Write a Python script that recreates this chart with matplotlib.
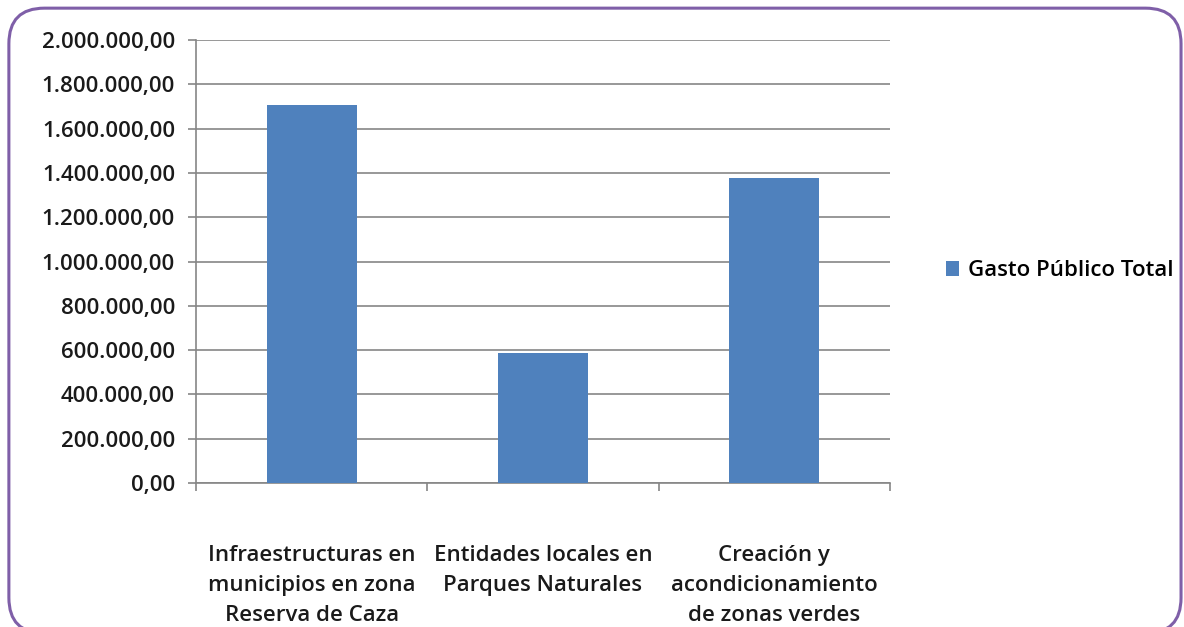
import matplotlib.pyplot as plt
from matplotlib.patches import FancyBboxPatch
from matplotlib.ticker import FuncFormatter

categorias = ['Infraestructuras en\nmunicipios en zona\nReserva de Caza',
              'Entidades locales en\nParques Naturales',
              'Creación y\nacondicionamiento\nde zonas verdes']
gasto = [1708000, 587000, 1376000]
serie = 'Gasto Público Total'
y_ticks = [0, 200000, 400000, 600000, 800000, 1000000, 1200000,
           1400000, 1600000, 1800000, 2000000]

plt.rcParams['font.family'] = ['Open Sans', 'DejaVu Sans']
tam = 16

fig = plt.figure(figsize=(11.84, 6.27), dpi=100)
ax = fig.add_axes([0.1655, 0.2297, 0.5862, 0.7063])

x = range(len(categorias))
ax.bar(x, gasto, width=0.39, color='#4F81BD', label=serie, zorder=3)

ax.set_ylim(0, 2000000)
ax.set_xlim(-0.5, len(categorias) - 0.5)
ax.set_yticks(y_ticks)


def formato(v, pos):
    s = f'{v:,.2f}'
    return s.replace(',', 'X').replace('.', ',').replace('X', '.')


ax.yaxis.set_major_formatter(FuncFormatter(formato))
ax.grid(axis='y', color='#868686', linewidth=1.2, zorder=0)

# ticks entre categorias, estilo Excel
ax.set_xticks([i - 0.5 for i in range(len(categorias) + 1)])
ax.set_xticklabels([])
ax.tick_params(axis='x', direction='out', length=6, color='#868686', width=1.2)
ax.tick_params(axis='y', direction='out', length=6, color='#868686', width=1.2,
               labelsize=tam, pad=9)
for lbl in ax.get_yticklabels():
    lbl.set_fontweight('semibold')
    lbl.set_color('#1a1a1a')

for i, cat in enumerate(categorias):
    ax.text(i, -0.14, cat, transform=ax.get_xaxis_transform(), ha='center',
            va='top', fontsize=tam, fontweight='semibold', color='#1a1a1a',
            linespacing=1.55)

for side in ['top', 'right']:
    ax.spines[side].set_visible(False)
for side in ['left', 'bottom']:
    ax.spines[side].set_color('#868686')
    ax.spines[side].set_linewidth(1.2)

leg = fig.legend(loc='center left', bbox_to_anchor=(0.782, 0.568), frameon=False,
                 handlelength=0.6, handleheight=0.6, handletextpad=0.4,
                 prop={'size': tam, 'weight': 'semibold'})

borde = FancyBboxPatch((0.0075, -0.01), 0.99, 0.997,
                       boxstyle='round,pad=0,rounding_size=0.03',
                       transform=fig.transFigure, fill=False,
                       edgecolor='#7F5FA8', linewidth=2.2, mutation_aspect=1184 / 627)
fig.patches.append(borde)

fig.savefig('out.png', dpi=100)
